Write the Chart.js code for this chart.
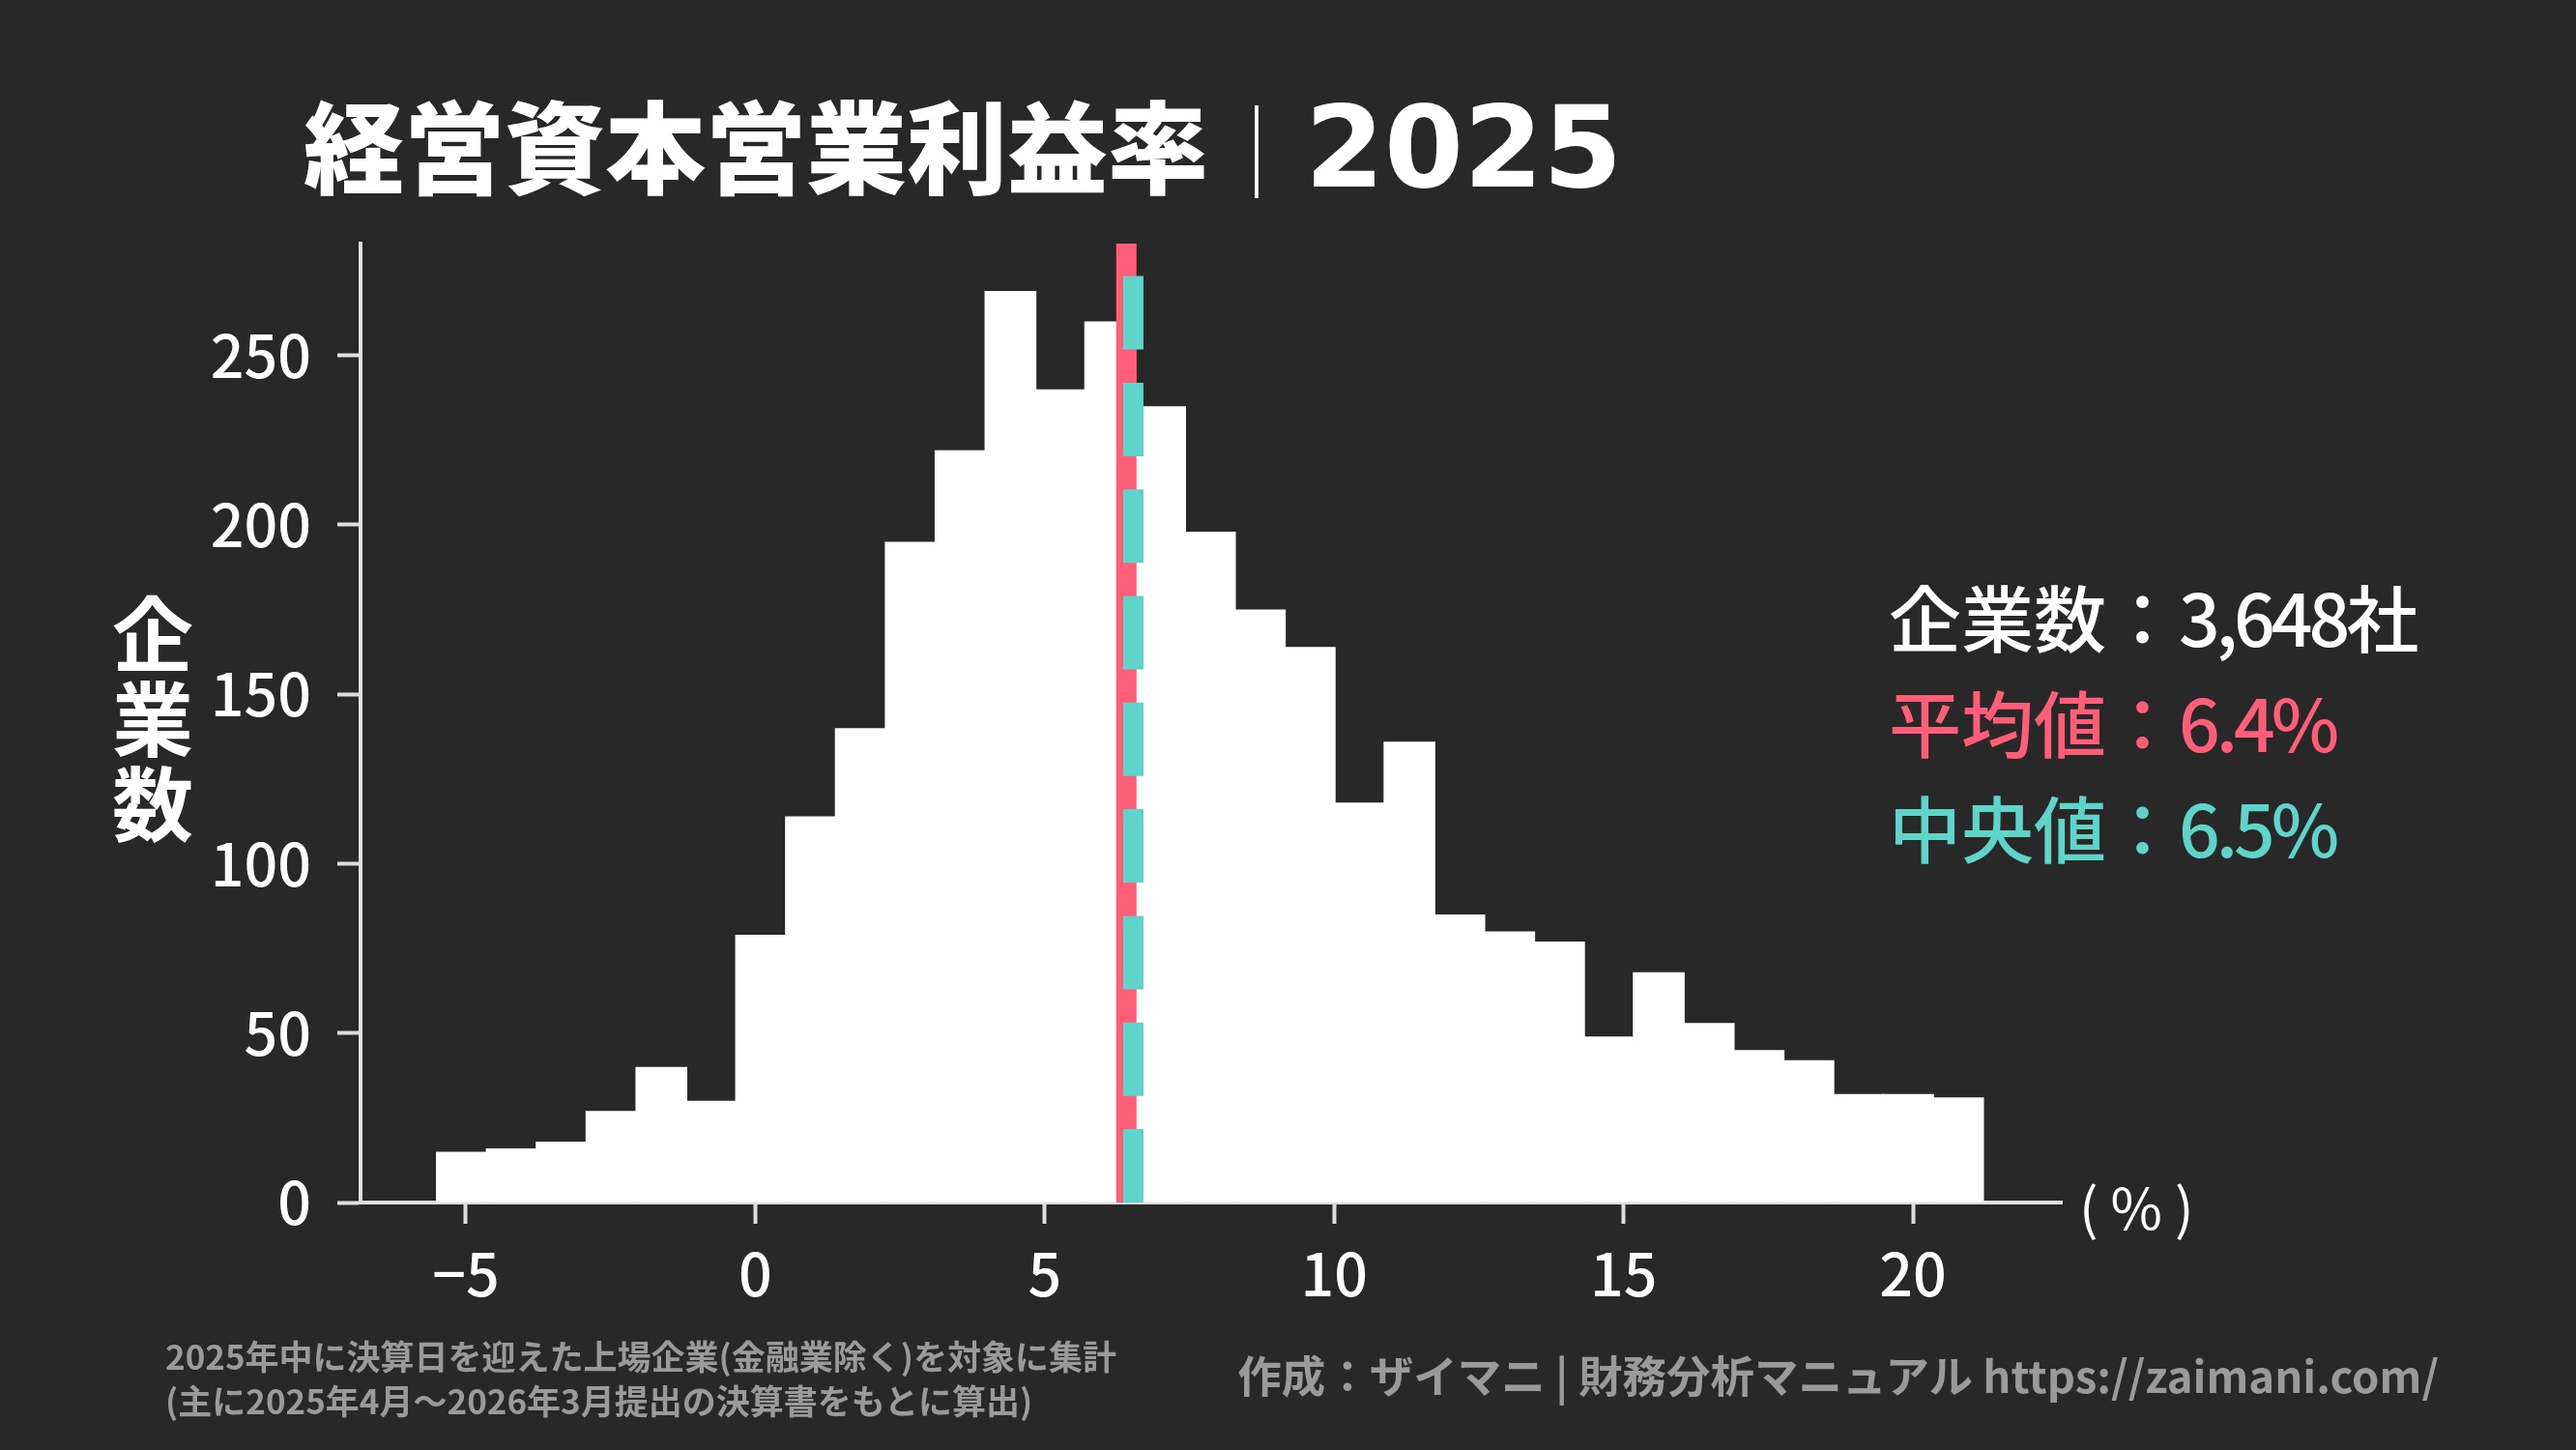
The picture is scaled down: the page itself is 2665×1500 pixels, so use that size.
<!DOCTYPE html>
<html lang="ja">
<head>
<meta charset="UTF-8" />
<title>経営資本営業利益率｜2025</title>
<script src="https://cdn.jsdelivr.net/npm/chart.js"></script>
<style>
* { box-sizing: border-box; }
body {
    margin: 0;
    background: #282828;
    font-family: 'Noto Sans CJK JP', sans-serif;
}
.stage {
    position: relative;
    width: 2665px;
    height: 1500px;
    overflow: hidden;
    background: #282828;
}
#histChart { position: absolute; left: 0; top: 0; }
.title {
    position: absolute;
    left: 314px;
    top: 93px;
    color: #fff;
    white-space: nowrap;
    line-height: 1;
}
.title .jp { font-size: 104px; font-weight: 900; }
.title .sep { font-size: 96px; font-weight: 300; margin: 0 2px 0 2px; }
.title .yr { font-family: 'DejaVu Sans', sans-serif; font-size: 118px; font-weight: bold; }
.ylabel {
    position: absolute;
    left: 98px;
    top: 608px;
    width: 120px;
    text-align: center;
    color: #fff;
    font-size: 84px;
    font-weight: bold;
    line-height: 88px;
}
.stats {
    position: absolute;
    left: 1954px;
    top: 582px;
    font-size: 75px;
    font-weight: 500;
    line-height: 109px;
    white-space: nowrap;
}
.stats .num { letter-spacing: -4px; }
.unit {
    position: absolute;
    left: 2151px;
    top: 1212px;
    color: #fff;
    font-size: 58px;
    line-height: 70px;
    white-space: nowrap;
}
.note {
    position: absolute;
    left: 171px;
    top: 1379px;
    color: #9a9a9a;
    font-size: 35px;
    font-weight: bold;
    line-height: 46px;
    white-space: nowrap;
}
.credit {
    position: absolute;
    right: 142px;
    top: 1391px;
    color: #9a9a9a;
    font-size: 45.5px;
    font-weight: bold;
    line-height: 60px;
    white-space: nowrap;
}
</style>
</head>
<body>
<div class="stage">
    <canvas id="histChart" width="2665" height="1500"></canvas>
    <div class="title"><span class="jp">経営資本営業利益率</span><span class="sep">｜</span><span class="yr">2025</span></div>
    <div class="ylabel">企<br>業<br>数</div>
    <div class="stats">
        <div style="color:#ffffff">企業数：<span class="num">3,648</span>社</div>
        <div style="color:#ff5d78">平均値：<span class="num">6.4%</span></div>
        <div style="color:#5fd4c9">中央値：<span class="num">6.5%</span></div>
    </div>
    <div class="unit">( % )</div>
    <div class="note">2025年中に決算日を迎えた上場企業(金融業除く)を対象に集計<br>(主に2025年4月～2026年3月提出の決算書をもとに算出)</div>
    <div class="credit">作成：ザイマニ | 財務分析マニュアル https://zaimani.com/</div>
</div>

<script>
// histogram bins (centre of each bin, % ) and company counts
const binCenters = [-5.069, -4.208, -3.346, -2.485, -1.623, -0.761, 0.100, 0.962, 1.823, 2.685,
    3.546, 4.408, 5.270, 6.131, 6.993, 7.854, 8.716, 9.577, 10.439, 11.301,
    12.162, 13.024, 13.885, 14.747, 15.608, 16.470, 17.332, 18.193, 19.055, 19.916, 20.778];
const companyCounts = [15, 16, 18, 27, 40, 30, 79, 114, 140, 195,
    222, 269, 240, 260, 235, 198, 175, 164, 118, 136,
    85, 80, 77, 49, 68, 53, 45, 42, 32, 32, 31];
const meanValue = 6.41;
const medianValue = 6.53;
const xTickValues = [-5, 0, 5, 10, 15, 20];
const yTickValues = [0, 50, 100, 150, 200, 250];
const xRange = [-6.82, 22.57];
const yRange = [0, 283];

const RED = '#ff5d78';
const TEAL = '#5fd4c9';
const AXIS = '#dedede';

Chart.defaults.font.family = "'Noto Sans CJK JP', sans-serif";

const ctx = document.getElementById('histChart').getContext('2d');
const chart = new Chart(ctx, {
    type: 'bar',
    data: {
        datasets: [
            {
                type: 'line',
                label: '中央値',
                data: [{ x: medianValue, y: yRange[0] }, { x: medianValue, y: yRange[1] }],
                borderColor: TEAL,
                borderWidth: 21,
                borderDash: [76, 34.3],
                borderCapStyle: 'butt',
                pointRadius: 0,
                order: 1
            },
            {
                type: 'line',
                label: '平均値',
                data: [{ x: meanValue, y: yRange[0] }, { x: meanValue, y: yRange[1] }],
                borderColor: RED,
                borderWidth: 21,
                borderCapStyle: 'butt',
                pointRadius: 0,
                order: 2
            },
            {
                type: 'bar',
                label: '企業数',
                data: binCenters.map((x, i) => ({ x: x, y: companyCounts[i] })),
                backgroundColor: '#ffffff',
                borderWidth: 0,
                barPercentage: 1.04,   // slight overlap so no seams between bins
                categoryPercentage: 1,
                grouped: false,
                order: 3
            }
        ]
    },
    options: {
        responsive: false,
        animation: false,
        devicePixelRatio: 1,
        layout: { padding: { left: 0, top: 252, right: 532, bottom: 0 } },
        plugins: {
            legend: { display: false },
            tooltip: { enabled: false }
        },
        scales: {
            x: {
                type: 'linear',
                min: xRange[0],
                max: xRange[1],
                offset: false,
                afterBuildTicks: s => { s.ticks = xTickValues.map(v => ({ value: v })); },
                afterFit: s => { s.height = 1500 - 1244; },
                ticks: {
                    color: '#ffffff',
                    font: { size: 61, weight: 500 },
                    padding: 15,
                    autoSkip: false,
                    maxRotation: 0,
                    callback: v => v < 0 ? '\u2212' + Math.abs(v) : String(v)
                },
                grid: { drawOnChartArea: false, drawTicks: true, tickLength: 22, tickWidth: 4, tickColor: AXIS, offset: false },
                border: { display: true, color: AXIS, width: 4 }
            },
            y: {
                type: 'linear',
                min: yRange[0],
                max: yRange[1],
                afterBuildTicks: s => { s.ticks = yTickValues.map(v => ({ value: v })); },
                afterFit: s => { s.width = 373; },
                ticks: {
                    color: '#ffffff',
                    font: { size: 61, weight: 500 },
                    padding: 27
                },
                grid: { drawOnChartArea: false, drawTicks: true, tickLength: 24, tickWidth: 4, tickColor: AXIS },
                border: { display: true, color: AXIS, width: 4 }
            }
        }
    }
});
</script>
</body>
</html>
